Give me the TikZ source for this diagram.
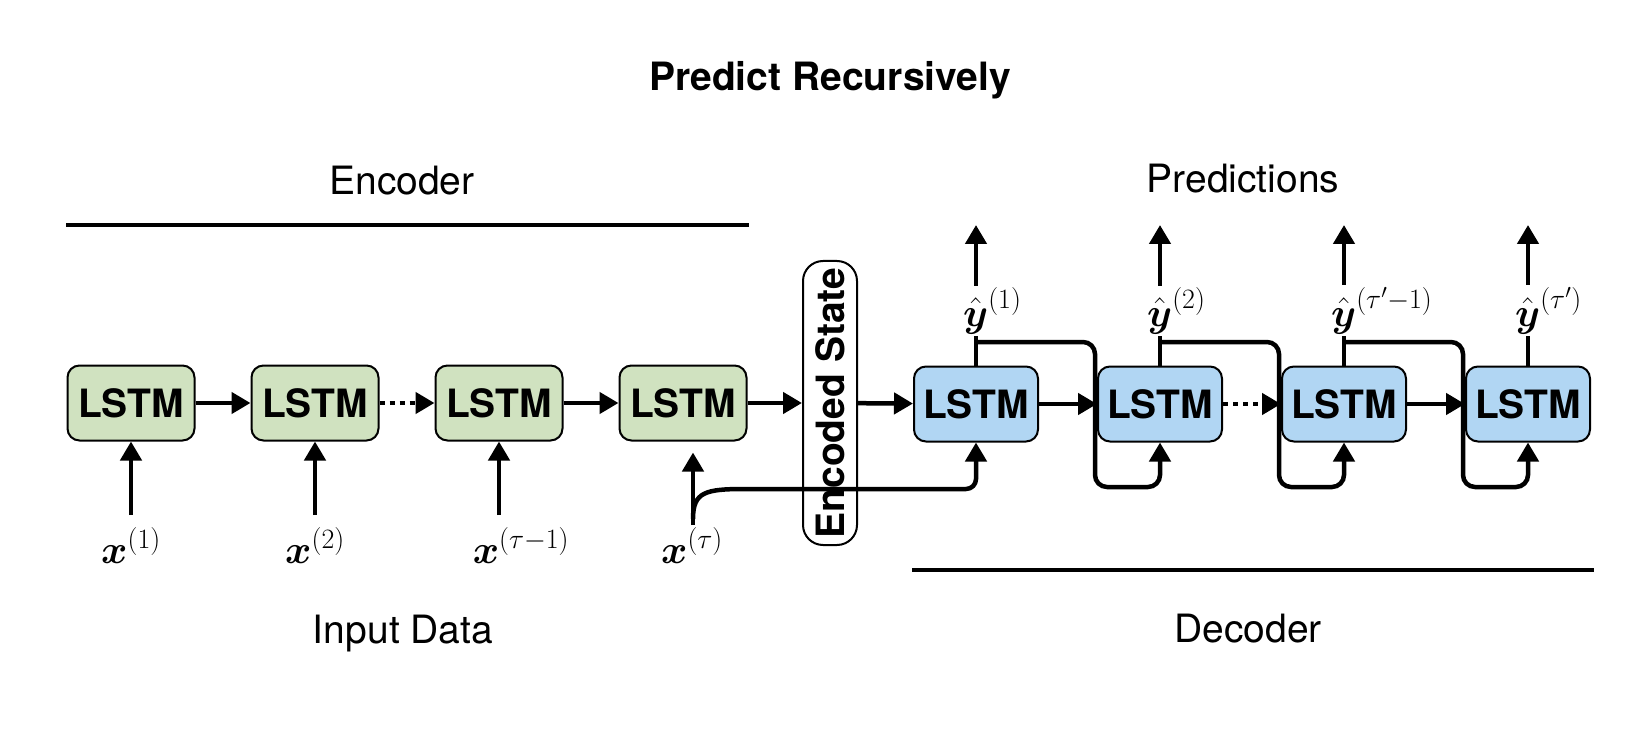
\RequirePackage{fix-cm}
\documentclass[tikz,border=0pt]{standalone}
\usepackage{amsmath,amssymb,mathtools}
\usepackage[no-math]{fontspec}
\setmainfont{TeX Gyre Heros}
\usepackage{tikz}
\usetikzlibrary{arrows.meta}
\usetikzlibrary{positioning}

\definecolor{encgreen}{RGB}{208,226,192}
\definecolor{decblue}{RGB}{177,214,243}

\begin{document}
\begin{tikzpicture}[x=1pt,y=1pt,yscale=-1,xscale=1,
    cell/.style={draw, line width=2pt, rounded corners=12pt, minimum width=127pt, minimum height=75pt, inner sep=0pt, font=\bfseries\fontsize{39}{47}\selectfont},
    enccell/.style={cell, fill=encgreen},
    deccell/.style={cell, fill=decblue, minimum width=124pt},
    statebox/.style={draw, line width=2pt, rounded corners=20pt, fill=white, rotate=90, minimum width=284pt, minimum height=54pt, inner sep=0pt, font=\bfseries\fontsize{39}{47}\selectfont},
    flow/.style={line width=4.5pt, -{Triangle[length=19pt,width=21pt]}},
    dotflow/.style={flow, dash pattern=on 5pt off 5pt},
    big/.style={font=\fontsize{39}{47}\selectfont},
    mathlbl/.style={font=\fontsize{40}{48}\selectfont, inner sep=2pt}
]
    \useasboundingbox (0,0) rectangle (1647,730);

    % Titles and headings
    \node [big, anchor=base] (title) at (830,91) {\bfseries Predict Recursively};
    \node [big, anchor=base] (enc) at (402,195) {Encoder};
    \node [big, anchor=base] (pred) at (1243,193) {Predictions};
    \node [big, anchor=base] (inp) at (403,643) {Input Data};
    \node [big, anchor=base] (dec) at (1248,642) {Decoder};
    \draw [line width=4pt] (66,225) -- (749,225);
    \draw [line width=4pt] (912,570) -- (1594,570);

    % Encoder cells
    \node [enccell] (e1) at (131,403) {LSTM};
    \node [enccell] (e2) at (315,403) {LSTM};
    \node [enccell] (e3) at (499,403) {LSTM};
    \node [enccell] (e4) at (683,403) {LSTM};
    % Encoded state
    \node [statebox] (es) at (830,403) {Encoded State};
    % Decoder cells
    \node [deccell] (d1) at (976,404) {LSTM};
    \node [deccell] (d2) at (1160,404) {LSTM};
    \node [deccell] (d3) at (1344,404) {LSTM};
    \node [deccell] (d4) at (1528,404) {LSTM};

    % Recurrent links
    \draw [flow] (e1) -- (e2);
    \draw [dotflow] (e2) -- (e3);
    \draw [flow] (e3) -- (e4);
    \draw [flow] (e4) -- (es);
    \draw [flow] (es) -- (d1);
    \draw [flow] (d1) -- (d2);
    \draw [dotflow] (d2) -- (d3);
    \draw [flow] (d3) -- (d4);

    % Inputs
    \node [mathlbl, anchor=base] (x1) at (131,563) {$\boldsymbol{x}^{(1)}$};
    \node [mathlbl, anchor=base] (x2) at (315,563) {$\boldsymbol{x}^{(2)}$};
    \node [mathlbl, anchor=base] (x3) at (521,563) {$\boldsymbol{x}^{(\tau-1)}$};
    \node [mathlbl, anchor=base] (x4) at (692,563) {$\boldsymbol{x}^{(\tau)}$};
    \coordinate (i1) at (131,515);
    \coordinate (i2) at (315,515);
    \coordinate (i3) at (499,515);
    \coordinate (i4) at (693,525);
    \draw [flow] (i1) -- (e1);
    \draw [flow] (i2) -- (e2);
    \draw [flow] (i3) -- (e3);
    \draw [flow, shorten >=11pt] (i4) -- (i4 |- e4.south);

    % Last input handed on past the encoded state
    \coordinate (h) at (745,489);
    \draw [line width=4.5pt] (693,519) .. controls (693,492) and (705,489) .. (h) -- (h -| es.west);
    \draw [flow, rounded corners=10pt] (h -| es.east) -| (d1.south);

    % Outputs
    \coordinate (o1) at (976,225);
    \coordinate (o2) at (1160,225);
    \coordinate (o3) at (1344,225);
    \coordinate (o4) at (1528,225);
    \draw [flow] (d1) -- (o1) node [pos=0.39, mathlbl, fill=white] (y1) {$\hat{\boldsymbol{y}}^{\mathrlap{(1)}}$};
    \draw [flow] (d2) -- (o2) node [pos=0.39, mathlbl, fill=white] (y2) {$\hat{\boldsymbol{y}}^{\mathrlap{(2)}}$};
    \draw [flow] (d3) -- (o3) node [pos=0.39, mathlbl, fill=white] (y3) {$\hat{\boldsymbol{y}}^{\mathrlap{(\tau'-1)}}$};
    \draw [flow] (d4) -- (o4) node [pos=0.39, mathlbl, fill=white] (y4) {$\hat{\boldsymbol{y}}^{\mathrlap{(\tau')}}$};

    % Predictions fed back
    \coordinate (b1) at (976,342);
    \coordinate (b2) at (1160,342);
    \coordinate (b3) at (1344,342);
    \draw [flow, rounded corners=12pt] (b1) -| (1095,487) -| (d2.south);
    \draw [flow, rounded corners=12pt] (b2) -| (1279,487) -| (d3.south);
    \draw [flow, rounded corners=12pt] (b3) -| (1463,487) -| (d4.south);

\end{tikzpicture}
\end{document}
